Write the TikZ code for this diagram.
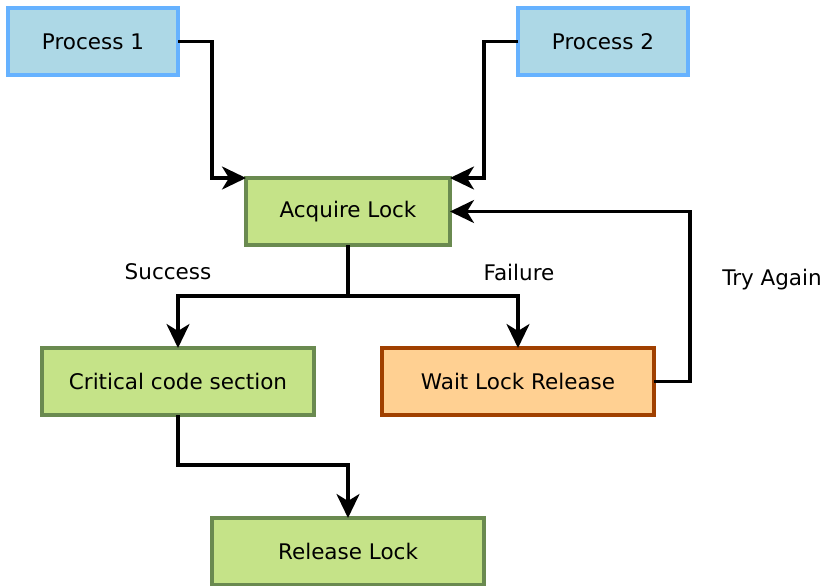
\documentclass[tikz,border=0pt]{standalone}
\usepackage{fontspec}
\setmainfont{DejaVu Sans}
\usetikzlibrary{arrows.meta}
\definecolor{bluefill}{HTML}{ADD8E6}
\definecolor{blueline}{HTML}{66B2FF}
\definecolor{greenfill}{HTML}{C5E388}
\definecolor{greenline}{HTML}{6A8A50}
\definecolor{orangefill}{HTML}{FFD092}
\definecolor{orangeline}{HTML}{A04000}
\tikzset{
  box/.style={rectangle, draw, line width=3.2pt, minimum width=170pt, minimum height=67pt, inner sep=0pt, outer sep=0pt, font=\fontsize{21.5}{25}\selectfont},
  procbox/.style={box, fill=bluefill, draw=blueline},
  greenbox/.style={box, fill=greenfill, draw=greenline},
  orangebox/.style={box, fill=orangefill, draw=orangeline},
  wide/.style={minimum width=272pt},
  acqw/.style={minimum width=204pt},
  conn/.style={draw=black, line width=3.2pt, -{Stealth[length=24pt,width=23pt,inset=7pt]}},
  lbl/.style={font=\fontsize{21.5}{25}\selectfont, inner sep=0pt}
}
\begin{document}
\begin{tikzpicture}[x=1pt,y=-1pt]
\useasboundingbox (0,0) rectangle (825,586);
\node[procbox] (p1) at (93,41.5) {Process 1};
\node[procbox] (p2) at (603,41.5) {Process 2};
\node[greenbox, acqw] (acq) at (348,211.5) {Acquire Lock};
\node[greenbox, wide] (crit) at (178,381.5) {Critical code section};
\node[orangebox, wide] (wait) at (518,381.5) {Wait Lock Release};
\node[greenbox, wide] (rel) at (348,551.5) {Release Lock};
\node[lbl] (succ) at (168,272) {Success};
\node[lbl] (fail) at (519,272) {Failure};
\node[lbl] (try) at (772,280) {Try Again};
\draw[conn] (p1.east) -- ++(34,0) |- (acq.north west);
\draw[conn] (p2.west) -- ++(-34,0) |- (acq.north east);
\draw[conn] (acq.south) -- ++(0,51) -| (crit.north);
\draw[conn] (acq.south) -- ++(0,51) -| (wait.north);
\draw[conn] (wait.east) -- ++(36,0) |- (acq.east);
\draw[conn] (crit.south) -- ++(0,50) -| (rel.north);
\end{tikzpicture}
\end{document}
